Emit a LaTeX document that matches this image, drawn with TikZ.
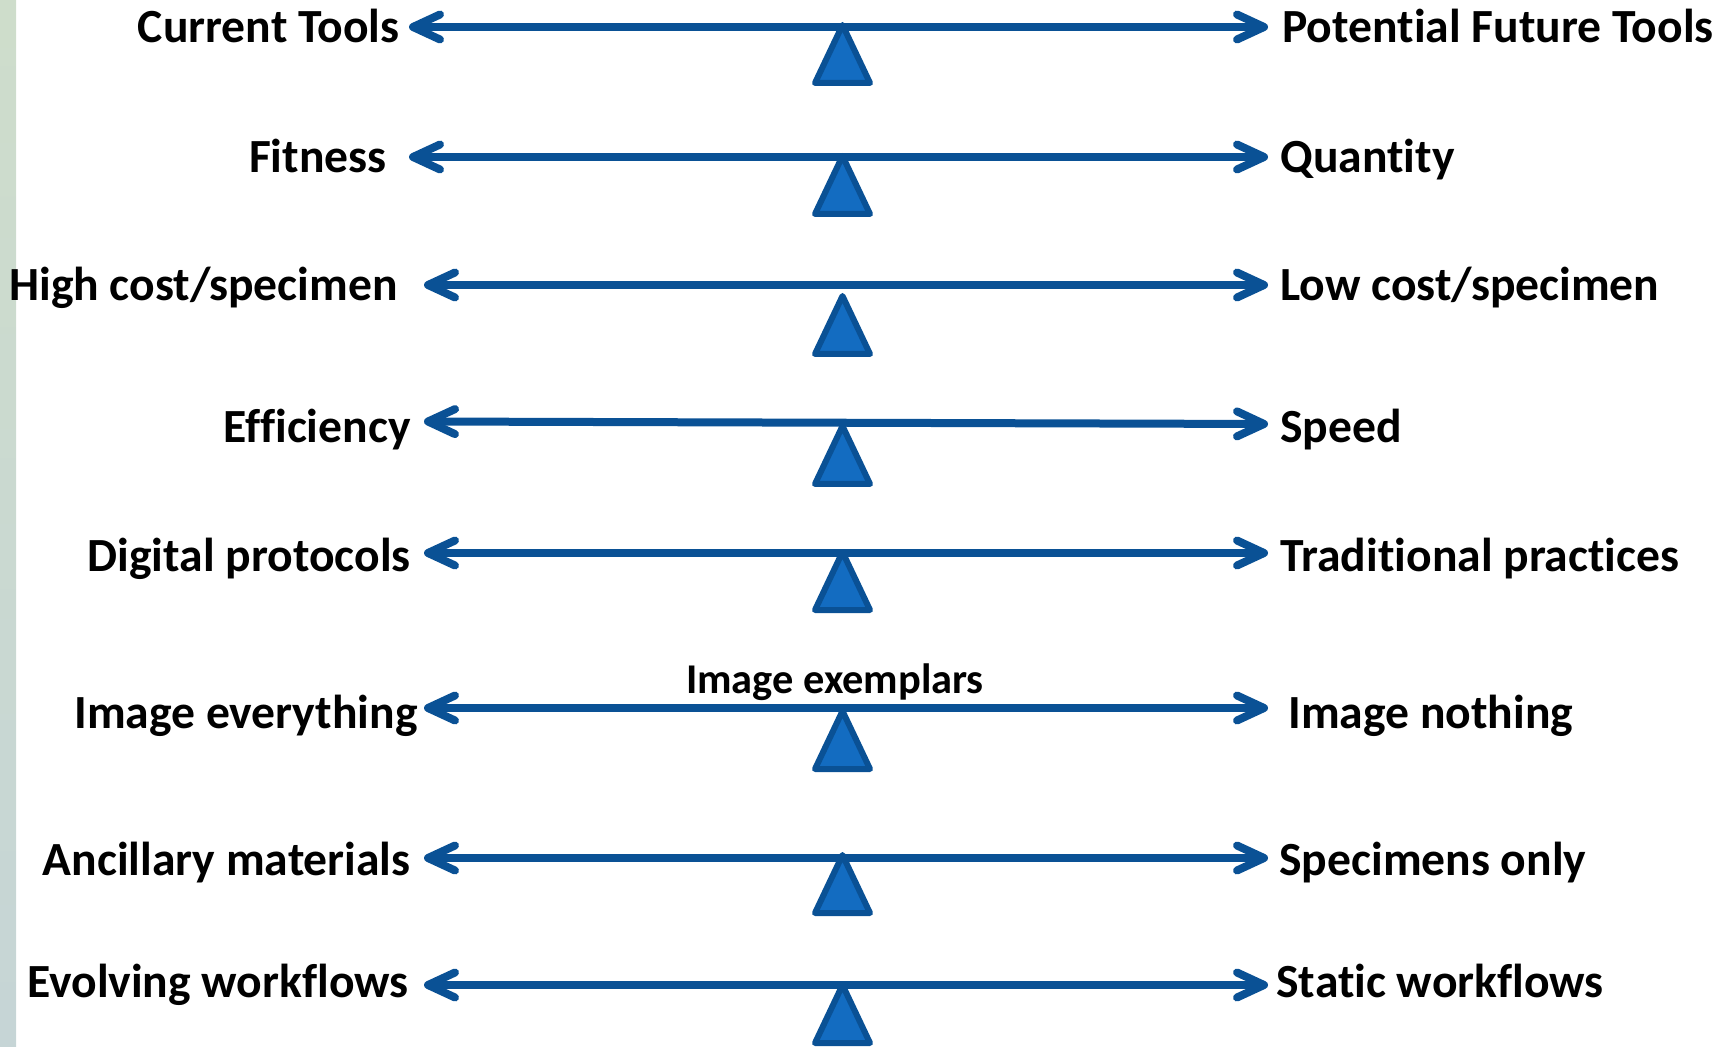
\documentclass[tikz,border=0pt]{standalone}
\usepackage{fontspec}
\setmainfont{Carlito}[Ligatures={NoCommon}]
\usetikzlibrary{arrows.meta}
\definecolor{leverblue}{RGB}{10,81,149}
\definecolor{pivotblue}{RGB}{19,108,193}
\definecolor{striptop}{RGB}{206,221,203}
\definecolor{stripbot}{RGB}{198,213,214}
\tikzset{
  lever/.style={draw=leverblue, line width=4pt,
    {Straight Barb[length=13.5pt,width=12.5pt,round]}-{Straight Barb[length=13.5pt,width=12.5pt,round]}},
  fulcrum/.style={draw=leverblue, fill=pivotblue, line width=3pt, line join=round},
  lbl/.style={inner sep=0pt, font=\fontsize{23.8}{28}\selectfont\bfseries},
  midlbl/.style={inner sep=0pt, font=\fontsize{21.2}{25}\selectfont\bfseries}
}

\begin{document}
\begin{tikzpicture}[x=0.5pt,y=-0.5pt]
                        \useasboundingbox (0,0) rectangle (1733,1047);
                        \shade[top color=striptop, bottom color=stripbot] (0,0) rectangle (16,1047);
                        % pivots under each beam
                        \foreach \b in {86,217,357,487,613,772,916,1046}
                            \filldraw[fulcrum] (815,\b-3) -- (842.5,\b-61) -- (870,\b-3) -- cycle;
                        % beams with their two ends
                        \node[lbl, anchor=base east] (cur) at (400,43) {Current Tools};
                        \node[lbl, anchor=base west] (fut) at (1282,43) {Potential Future Tools};
                        \coordinate (curL) at (409,27);
                        \coordinate (curR) at (1268,27);
                        \draw[lever] (curL) -- (curR);
                        \node[lbl, anchor=base east] (fit) at (387,173) {Fitness};
                        \node[lbl, anchor=base west] (qty) at (1280,173) {Quantity};
                        \coordinate (fitL) at (409,157);
                        \coordinate (fitR) at (1268,157);
                        \draw[lever] (fitL) -- (fitR);
                        \node[lbl, anchor=base east] (hic) at (398,301) {High cost/specimen};
                        \node[lbl, anchor=base west] (loc) at (1280,301) {Low cost/specimen};
                        \coordinate (hicL) at (424,285);
                        \coordinate (hicR) at (1268,285);
                        \draw[lever] (hicL) -- (hicR);
                        \node[lbl, anchor=base east] (eff) at (411,443) {Efficiency};
                        \node[lbl, anchor=base west] (spd) at (1280,443) {Speed};
                        \coordinate (effL) at (424,421.5);
                        \coordinate (effR) at (1268,424);
                        \draw[lever] (effL) -- (effR);
                        \node[lbl, anchor=base east] (dig) at (411,571) {Digital protocols};
                        \node[lbl, anchor=base west] (tra) at (1280,571) {Traditional practices};
                        \coordinate (digL) at (424,553);
                        \coordinate (digR) at (1268,553);
                        \draw[lever] (digL) -- (digR);
                        \node[lbl, anchor=base east] (ime) at (418,728) {Image everything};
                        \node[lbl, anchor=base west] (imn) at (1288,728) {Image nothing};
                        \node[midlbl, anchor=base] (imx) at (835,693) {Image exemplars};
                        \coordinate (imeL) at (424,708);
                        \coordinate (imeR) at (1268,708);
                        \draw[lever] (imeL) -- (imeR);
                        \node[lbl, anchor=base east] (anc) at (411,875) {Ancillary materials};
                        \node[lbl, anchor=base west] (spo) at (1279,875) {Specimens only};
                        \coordinate (ancL) at (424,858);
                        \coordinate (ancR) at (1268,858);
                        \draw[lever] (ancL) -- (ancR);
                        \node[lbl, anchor=base east] (evo) at (409,997) {Evolving workflows};
                        \node[lbl, anchor=base west] (sta) at (1276,997) {Static workflows};
                        \coordinate (evoL) at (424,985);
                        \coordinate (evoR) at (1268,985);
                        \draw[lever] (evoL) -- (evoR);
                    \end{tikzpicture}
\end{document}
